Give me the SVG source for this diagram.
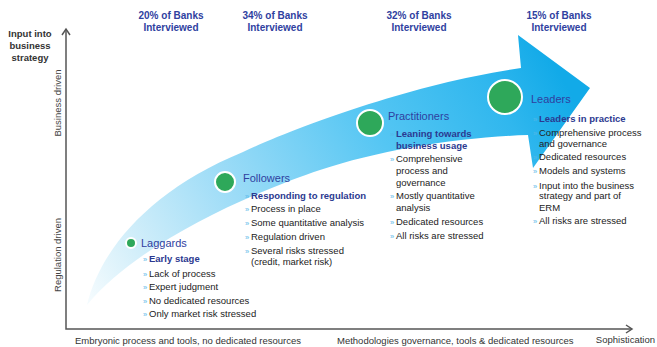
<svg xmlns="http://www.w3.org/2000/svg" width="657" height="347" viewBox="0 0 657 347">
<style>
text{font-family:"Liberation Sans",Arial,sans-serif}
.hdr{font-size:10px;font-weight:bold;fill:#2f3f9f;text-anchor:middle}
.ttl{font-size:11px;fill:#2f3f9f}
.b{font-size:9.5px;fill:#222}
.bb{font-size:9.5px;font-weight:bold;fill:#2b3990}
.bul{font-size:7.5px;fill:#55b8e8}
.ax{font-size:9.5px;fill:#333}
.axv{font-size:9.5px;fill:#444}
.ax-line{stroke:#555;stroke-width:1.5;fill:none}
.dot{fill:#2ea85a;stroke:#fff;stroke-width:2}
</style>
<defs>
<linearGradient id="g" gradientUnits="userSpaceOnUse" x1="90" y1="300" x2="540" y2="40">
<stop offset="0" stop-color="#f4fbfe"/>
<stop offset="0.12" stop-color="#d4effa"/>
<stop offset="0.34" stop-color="#9ddcf7"/>
<stop offset="0.64" stop-color="#55c6f3"/>
<stop offset="0.87" stop-color="#30b7ee"/>
<stop offset="1" stop-color="#12aae8"/>
</linearGradient>
</defs>
<g id="arrow">
<path d="M87,305 C100,250 150,190 243,152 C300,125 420,82 521,68 L518,35 L590,88 L533,168 L528,135 C460,137 380,150 320,170 C260,190 140,240 87,305 Z" fill="url(#g)"/>
</g>
<g id="axes">
<path class="ax-line" d="M66,29 L66,329 L632,329"/>
<path class="ax-line" d="M62,35 L66,29 L70,35"/>
<path class="ax-line" d="M626,325 L632,329 L626,333"/>
<text class="ax" x="30" y="37" text-anchor="middle" font-weight="bold">Input into</text>
<text class="ax" x="30" y="49" text-anchor="middle" font-weight="bold">business</text>
<text class="ax" x="30" y="61" text-anchor="middle" font-weight="bold">strategy</text>
<text class="axv" transform="translate(61,103) rotate(-90)" text-anchor="middle">Business driven</text>
<text class="axv" transform="translate(61,255) rotate(-90)" text-anchor="middle">Regulation driven</text>
<text class="ax" x="75" y="344">Embryonic process and tools, no dedicated resources</text>
<text class="ax" x="337" y="344">Methodologies governance, tools &amp; dedicated resources</text>
<text class="ax" x="655" y="343" text-anchor="end" font-size="8.8px">Sophistication</text>
</g>
<g id="headers">
<text class="hdr" x="171" y="19">20% of Banks</text>
<text class="hdr" x="171" y="31">Interviewed</text>
<text class="hdr" x="275" y="19">34% of Banks</text>
<text class="hdr" x="275" y="31">Interviewed</text>
<text class="hdr" x="419" y="19">32% of Banks</text>
<text class="hdr" x="419" y="31">Interviewed</text>
<text class="hdr" x="559" y="19">15% of Banks</text>
<text class="hdr" x="559" y="31">Interviewed</text>
</g>
<g id="laggards">
<circle class="dot" cx="131" cy="243" r="5"/>
<text class="ttl" x="141" y="247">Laggards</text>
<text class="bul" x="143" y="262">»</text><text class="bb" x="149" y="262">Early stage</text>
<text class="bul" x="143" y="277">»</text><text class="b" x="149" y="277">Lack of process</text>
<text class="bul" x="143" y="290">»</text><text class="b" x="149" y="290">Expert judgment</text>
<text class="bul" x="143" y="304">»</text><text class="b" x="149" y="304">No dedicated resources</text>
<text class="bul" x="143" y="317">»</text><text class="b" x="149" y="317">Only market risk stressed</text>
</g>
<g id="followers">
<circle class="dot" cx="225" cy="182" r="10"/>
<text class="ttl" x="243" y="182">Followers</text>
<text class="bul" x="245" y="199">»</text><text class="bb" x="251" y="199">Responding to regulation</text>
<text class="bul" x="245" y="212">»</text><text class="b" x="251" y="212">Process in place</text>
<text class="bul" x="245" y="226">»</text><text class="b" x="251" y="226">Some quantitative analysis</text>
<text class="bul" x="245" y="240">»</text><text class="b" x="251" y="240">Regulation driven</text>
<text class="bul" x="245" y="254">»</text><text class="b" x="251" y="254">Several risks stressed</text>
<text class="b" x="251" y="265">(credit, market risk)</text>
</g>
<g id="practitioners">
<circle class="dot" cx="370" cy="123" r="13"/>
<text class="ttl" x="388" y="120">Practitioners</text>
<text class="bul" x="390" y="137">»</text><text class="bb" x="396" y="137">Leaning towards</text>
<text class="bb" x="396" y="149">business usage</text>
<text class="bul" x="390" y="162">»</text><text class="b" x="396" y="162">Comprehensive</text>
<text class="b" x="396" y="174">process and</text>
<text class="b" x="396" y="186">governance</text>
<text class="bul" x="390" y="199">»</text><text class="b" x="396" y="199">Mostly quantitative</text>
<text class="b" x="396" y="211">analysis</text>
<text class="bul" x="390" y="225">»</text><text class="b" x="396" y="225">Dedicated resources</text>
<text class="bul" x="390" y="239">»</text><text class="b" x="396" y="239">All risks are stressed</text>
</g>
<g id="leaders">
<circle class="dot" cx="505" cy="97" r="17"/>
<text class="ttl" x="531" y="103">Leaders</text>
<text class="bul" x="533" y="122">»</text><text class="bb" x="539" y="122">Leaders in practice</text>
<text class="bul" x="533" y="136">»</text><text class="b" x="539" y="136">Comprehensive process</text>
<text class="b" x="539" y="147">and governance</text>
<text class="bul" x="533" y="160">»</text><text class="b" x="539" y="160">Dedicated resources</text>
<text class="bul" x="533" y="174">»</text><text class="b" x="539" y="174">Models and systems</text>
<text class="bul" x="533" y="189">»</text><text class="b" x="539" y="189">Input into the business</text>
<text class="b" x="539" y="199">strategy and  part of</text>
<text class="b" x="539" y="211">ERM</text>
<text class="bul" x="533" y="224">»</text><text class="b" x="539" y="224">All risks are stressed</text>
</g>
</svg>
